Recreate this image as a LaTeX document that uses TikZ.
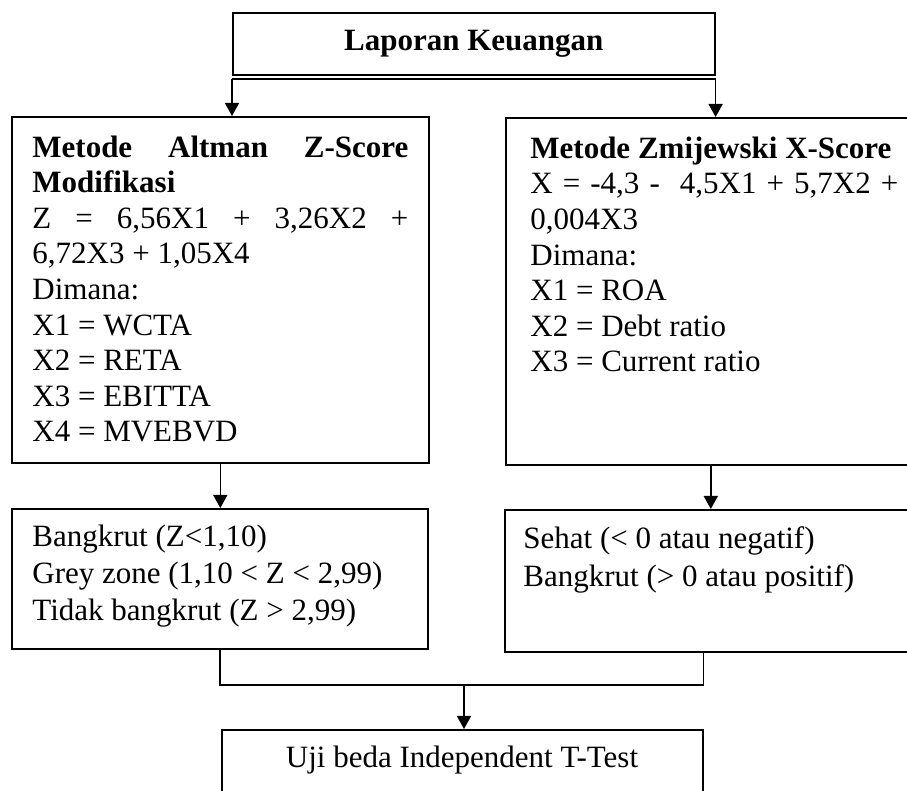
\documentclass[tikz,border=0pt]{standalone}
\usepackage{fontspec}
\setmainfont{Liberation Serif}
\usetikzlibrary{arrows.meta,positioning}

\begin{document}
\begin{tikzpicture}[x=0.5pt,y=-0.5pt,
  kotak/.style={draw,line width=0.8pt,inner sep=0pt,anchor=north west},
  teks/.style={inner sep=0pt,anchor=base west,align=left,font=\fontsize{15.5}{17.8}\selectfont},
  panah/.style={line width=0.8pt,-{Triangle[length=6.5pt,width=7pt]}},
  garis/.style={line width=0.8pt}]
  \useasboundingbox (0,0) rectangle (907,791);
  % kotak judul dan kotak metode
  \node[kotak,minimum width=241pt,minimum height=31pt,font=\fontsize{15.5}{17.8}\selectfont\bfseries] (lap) at (232,12) {Laporan Keuangan};
  \node[kotak,minimum width=208.5pt,minimum height=173pt] (altman) at (11,116) {};
  \node[kotak,minimum width=205pt,minimum height=173.5pt] (zmij) at (505,117) {};
  % kotak hasil
  \node[kotak,minimum width=208pt,minimum height=70pt] (hasilz) at (11,508) {};
  \node[kotak,minimum width=205.5pt,minimum height=71pt] (hasilx) at (504,509) {};
  \node[kotak,minimum width=240.5pt,minimum height=40.5pt] (ujit) at (221,729) {};

  % isi teks (titik = garis dasar baris terakhir)
  \node[teks] (altmanteks) at (32,442) {\makebox[188pt][s]{\bfseries Metode Altman Z-Score}\\
    \textbf{Modifikasi}\\
    \makebox[188pt][s]{Z = 6,56X1 + 3,26X2 +}\\
    6,72X3 + 1,05X4\\ Dimana:\\ X1 = WCTA\\ X2 = RETA\\ X3 = EBITTA\\ X4 = MVEBVD};
  \node[teks] (zmijteks) at (530,372) {\textbf{Metode Zmijewski X-Score}\\
    \makebox[184pt][s]{X = -4,3 -\ \ 4,5X1 + 5,7X2 +}\\
    0,004X3\\ Dimana:\\ X1 = ROA\\ X2 = Debt ratio\\ X3 = Current ratio};
  \node[teks,font=\fontsize{15.5}{18.7}\selectfont] (hasilzteks) at (32,621) {Bangkrut (Z<1,10)\\
    Grey zone (1,10 < Z < 2,99)\\ Tidak bangkrut (Z > 2,99)};
  \node[teks,font=\fontsize{15.5}{19}\selectfont] (hasilxteks) at (523,587) {Sehat (< 0 atau negatif)\\
    Bangkrut (> 0 atau positif)};
  \node[teks,anchor=base] (ujiteks) at (462,768) {Uji beda Independent T-Test};

  % garis penghubung
  \draw[garis] ([yshift=-1.7pt]lap.south west) -- ([yshift=-1.7pt]lap.south east);
  \draw[panah] ([yshift=-1.7pt]lap.south west) -- (lap.south west |- altman.north);
  \draw[panah] ([yshift=-1.7pt]lap.south east) -- (lap.south east |- zmij.north);
  \draw[panah] (altman.south) -- (altman.south |- hasilz.north);
  \draw[panah] (zmij.south) -- (zmij.south |- hasilx.north);
  \coordinate (gabung) at (464,685);
  \draw[garis] (hasilz.south) |- (gabung) -| (ujit.north east |- hasilx.south);
  \draw[panah] (gabung) -- (gabung |- ujit.north);
\end{tikzpicture}
\end{document}
